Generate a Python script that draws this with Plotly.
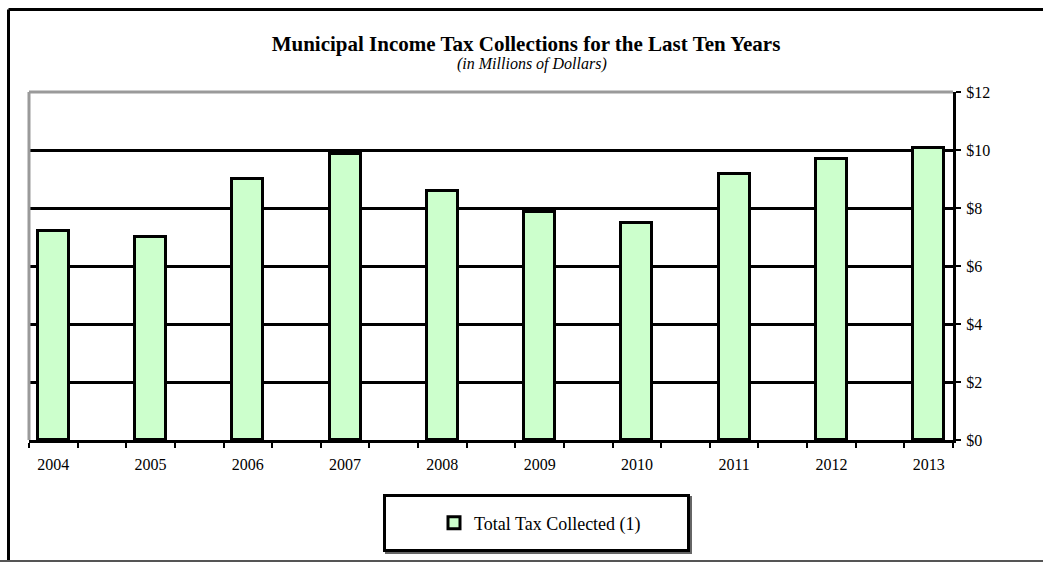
import plotly.graph_objects as go

# ---- data ----
years = ["2004", "2005", "2006", "2007", "2008", "2009", "2010", "2011", "2012", "2013"]
collected = [7.22, 7.01, 9.0, 9.87, 8.59, 7.87, 7.49, 9.17, 9.68, 10.07]
y_ticks = [0, 2, 4, 6, 8, 10, 12]
series_name = "Total Tax Collected (1)"
title_text = "Municipal Income Tax Collections for the Last Ten Years"
subtitle_text = "(in Millions of Dollars)"

W, H = 1043, 563
def px_x(p): return p / W
def px_y(p): return 1 - p / H

# bars sit on every other slot of the category axis (blank slot between years)
slots = [2 * i for i in range(len(years))]

SERIF = "Liberation Serif, Times New Roman, serif"

fig = go.Figure()
fig.add_trace(go.Bar(
    x=slots, y=collected, name=series_name, width=0.64,
    marker=dict(color="#CCFFCC", line=dict(color="black", width=3)),
    showlegend=True,
))

fig.update_layout(
    width=W, height=H,
    margin=dict(l=0, r=0, t=0, b=0, autoexpand=False),
    paper_bgcolor="white", plot_bgcolor="white",
    font=dict(family=SERIF, color="black"),
    title=dict(text="<b>" + title_text + "</b>", x=px_x(526), xanchor="center",
               y=px_y(44), yanchor="middle", font=dict(size=21, family=SERIF, color="black")),
    xaxis=dict(
        domain=[px_x(29), px_x(953)],
        range=[-0.5, 2 * len(years) - 1.5],
        tickmode="array", tickvals=slots, ticktext=years,
        ticks="", showgrid=False, zeroline=False,
        showline=True, linecolor="black", linewidth=3,
        tickfont=dict(size=16, family=SERIF, color="black"),
        ticklabelstandoff=8,
        minor=dict(tickmode="linear", tick0=-0.5, dtick=1, ticks="outside",
                   ticklen=5, tickwidth=2, tickcolor="black", showgrid=False),
        fixedrange=True,
    ),
    yaxis=dict(
        domain=[px_y(440), px_y(92)],
        range=[0, 12], side="right",
        tickmode="array", tickvals=y_ticks, ticktext=["$" + str(v) for v in y_ticks],
        ticks="outside", ticklen=5, tickwidth=2, tickcolor="black",
        showgrid=True, gridcolor="black", gridwidth=2.5,
        zeroline=False, showline=True, linecolor="black", linewidth=3,
        tickfont=dict(size=16, family=SERIF, color="black"),
        ticklabelstandoff=2,
        fixedrange=True,
    ),
    legend=dict(
        x=px_x(540), xanchor="center", y=px_y(523), yanchor="middle",
        bgcolor="rgba(0,0,0,0)", borderwidth=0, itemwidth=30,
        font=dict(size=18, family=SERIF, color="black"),
    ),
    shapes=[
        # plot area gray top and left border
        dict(type="line", xref="x domain", yref="y domain", x0=0, x1=1, y0=1, y1=1,
             line=dict(color="#9a9a9a", width=3)),
        dict(type="line", xref="x domain", yref="y domain", x0=0, x1=0, y0=0, y1=1,
             line=dict(color="#9a9a9a", width=3)),
        # outer frame
        dict(type="line", xref="paper", yref="paper", x0=px_x(8.5), x1=1.05,
             y0=px_y(9.5), y1=px_y(9.5), line=dict(color="black", width=3)),
        dict(type="line", xref="paper", yref="paper", x0=px_x(8.5), x1=px_x(8.5),
             y0=px_y(9.5), y1=px_y(561), line=dict(color="black", width=3)),
        dict(type="line", xref="paper", yref="paper", x0=0, x1=1.05,
             y0=px_y(561), y1=px_y(561), line=dict(color="#555555", width=2)),
        # legend box with shadow
        dict(type="rect", xref="paper", yref="paper", x0=px_x(386), x1=px_x(691),
             y0=px_y(497), y1=px_y(553), line=dict(color="#666666", width=2), layer="below"),
        dict(type="rect", xref="paper", yref="paper", x0=px_x(384.5), x1=px_x(688.5),
             y0=px_y(495.5), y1=px_y(550.5), line=dict(color="black", width=3),
             fillcolor="white", layer="below"),
    ],
    annotations=[
        dict(text="<i>" + subtitle_text + "</i>", xref="paper", yref="paper",
             x=px_x(532), y=px_y(64), xanchor="center", yanchor="middle",
             showarrow=False, font=dict(size=16, family=SERIF, color="black")),
    ],
    bargap=0,
)

fig.write_html("out.html")
